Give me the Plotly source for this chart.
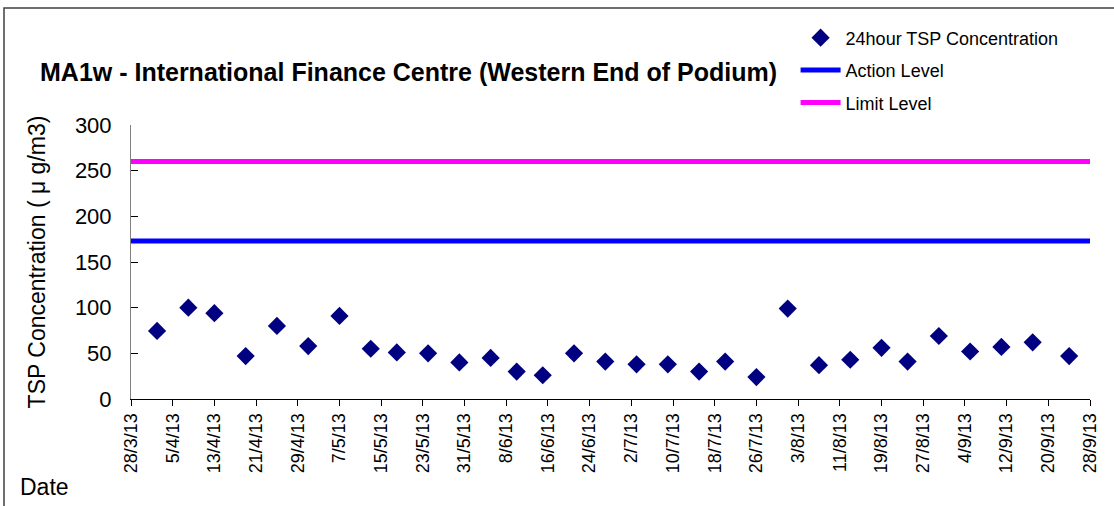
import pandas as pd
import plotly.graph_objects as go

dates = [
    "2013-04-02", "2013-04-08", "2013-04-13", "2013-04-19", "2013-04-25",
    "2013-05-01", "2013-05-07", "2013-05-13", "2013-05-18", "2013-05-24",
    "2013-05-30", "2013-06-05", "2013-06-10", "2013-06-15", "2013-06-21",
    "2013-06-27", "2013-07-03", "2013-07-09", "2013-07-15", "2013-07-20",
    "2013-07-26", "2013-08-01", "2013-08-07", "2013-08-13", "2013-08-19",
    "2013-08-24", "2013-08-30", "2013-09-05", "2013-09-11", "2013-09-17",
    "2013-09-24",
]
tsp = [
    74.5, 100, 94, 47, 80, 58, 91, 55, 51, 50,
    40, 45, 30, 26, 50, 41, 38, 38, 30, 41,
    24, 99, 37, 43, 56, 41, 69, 52, 57, 62,
    47,
]
action_level = 173
limit_level = 260
x_start = "2013-03-28"
x_end = "2013-09-28"

fig = go.Figure()

fig.add_trace(go.Scatter(
    x=pd.to_datetime(dates), y=tsp, mode="markers",
    name="24hour TSP Concentration", legendgroup="tsp",
    marker=dict(symbol="diamond", size=14, color="#000080"),
))
fig.add_trace(go.Scatter(
    x=pd.to_datetime([x_start, x_end]), y=[action_level, action_level],
    mode="lines", name="Action Level", legendgroup="action",
    line=dict(color="#0000FF", width=5),
))
fig.add_trace(go.Scatter(
    x=pd.to_datetime([x_start, x_end]), y=[limit_level, limit_level],
    mode="lines", name="Limit Level", legendgroup="limit",
    line=dict(color="#FF00FF", width=5),
))

fig.update_layout(
    width=1114, height=506,
    paper_bgcolor="white", plot_bgcolor="white",
    font=dict(family="Liberation Sans, Arial", color="black"),
    margin=dict(l=131, r=24, t=125, b=107),
    title=dict(
        text="<b>MA1w - International Finance Centre (Western End of Podium)</b>",
        font=dict(size=25, color="black"),
        x=40 / 1114, xanchor="left", xref="container",
        y=1 - 72 / 506, yanchor="middle", yref="container",
    ),
    showlegend=True,
    legend=dict(
        x=0.693, y=1.385, xanchor="left", yanchor="top",
        font=dict(size=18), bgcolor="rgba(0,0,0,0)",
        tracegroupgap=6, itemwidth=40,
    ),
    xaxis=dict(
        type="date",
        range=[x_start, x_end],
        tick0=x_start, dtick=8 * 86400000,
        tickformat="%-d/%-m/%y", tickangle=-90,
        tickfont=dict(size=18),
        ticks="outside", ticklen=6, tickcolor="black",
        showline=True, linecolor="black", linewidth=1,
        showgrid=False, zeroline=False,
    ),
    yaxis=dict(
        range=[0, 300], dtick=50,
        tickfont=dict(size=22),
        ticks="inside", ticklen=7, tickcolor="black",
        ticklabelstandoff=14,
        showline=True, linecolor="#808080", linewidth=1,
        showgrid=False, zeroline=False,
        title=dict(text="TSP Concentration ( μ g/m3)", font=dict(size=23), standoff=22),
    ),
    shapes=[dict(
        type="rect", xref="paper", yref="paper",
        x0=(4 - 131) / 959, x1=1.2, y0=-0.6, y1=1 + (125 - 8) / 274,
        line=dict(color="#404040", width=1.5), layer="below",
    )],
    annotations=[dict(
        text="Date", xref="paper", yref="paper",
        x=(18 - 131) / 959, y=-(487 - 399) / 274,
        xanchor="left", yanchor="middle", showarrow=False,
        font=dict(size=23, color="black"),
    )],
)

fig.write_html(
    "out.html",
    config={"displayModeBar": False},
    post_script="document.body.style.margin='0';",
)
